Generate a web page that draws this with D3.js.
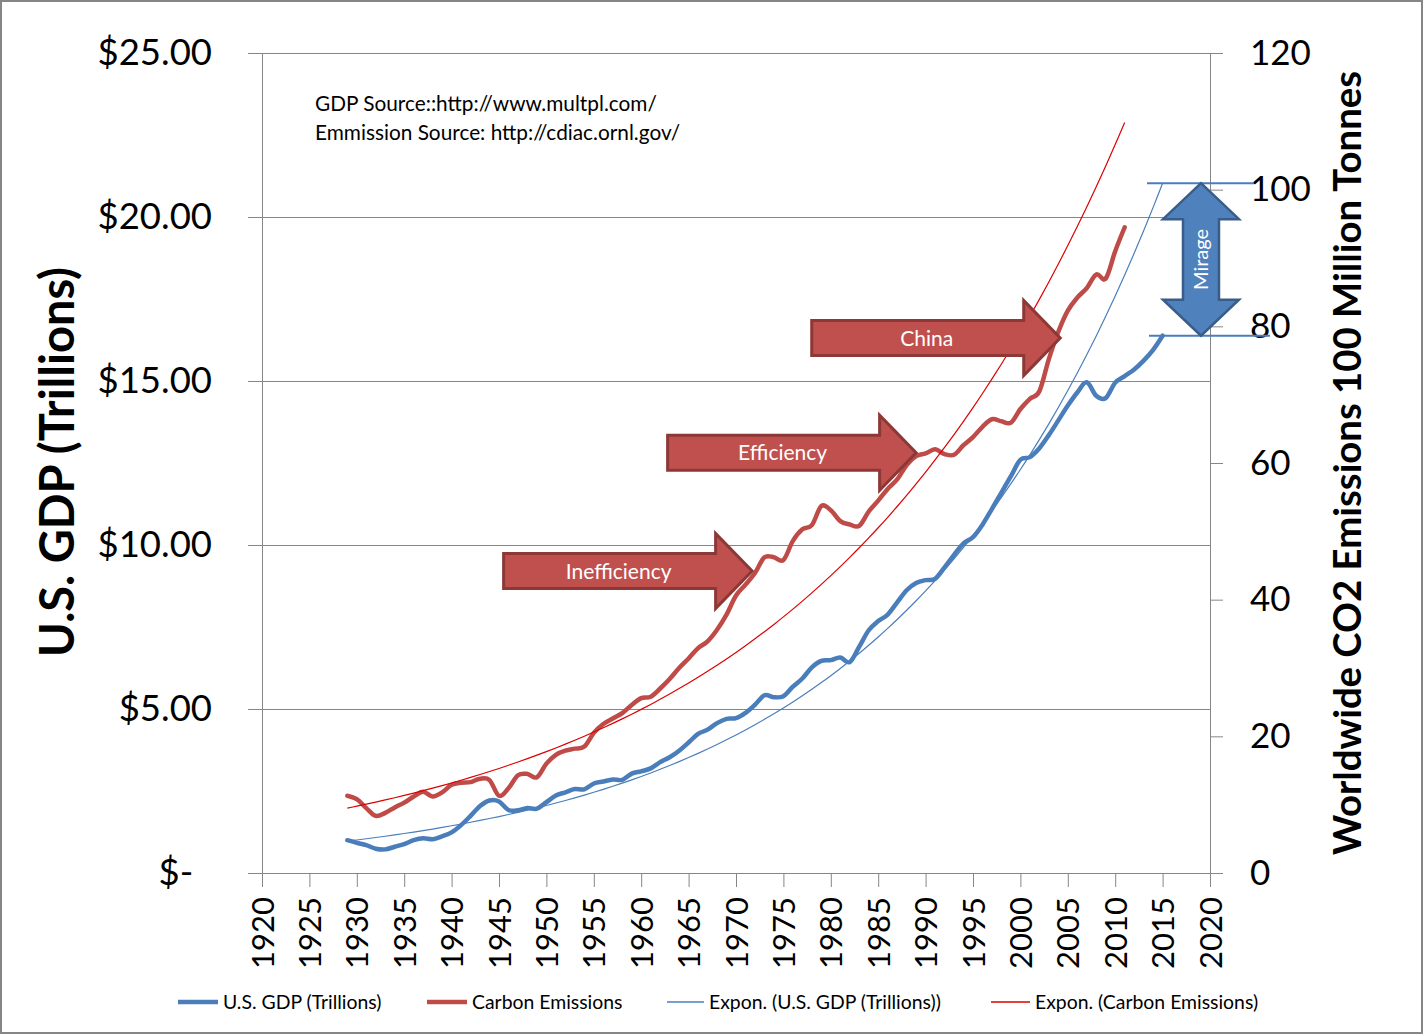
<!DOCTYPE html>
<html>
<head>
<meta charset="utf-8">
<script src="https://cdn.jsdelivr.net/npm/d3@7"></script>
<style>
  body { margin: 0; background: #fff; }
  text { font-family: Lato, sans-serif; }
</style>
</head>
<body>
<div id="chart"></div>
<script>
// - data
const gdpYears = d3.range(1929, 2016)
const gdpValues = [
  1.00, 0.92, 0.85, 0.74, 0.72, 0.80, 0.88, 1.00, 1.06, 1.03, // 1929-1938
  1.12, 1.24, 1.46, 1.74, 2.04, 2.21, 2.18, 1.92, 1.91, 1.98, // 1939-1948
  1.96, 2.16, 2.36, 2.46, 2.56, 2.55, 2.73, 2.79, 2.85, 2.84, // 1949-1958
  3.03, 3.10, 3.19, 3.38, 3.53, 3.73, 3.98, 4.24, 4.37, 4.57, // 1959-1968
  4.70, 4.72, 4.88, 5.13, 5.42, 5.36, 5.39, 5.68, 5.93, 6.27, // 1969-1978
  6.47, 6.49, 6.57, 6.43, 6.90, 7.40, 7.68, 7.88, 8.25, 8.62, // 1979-1988
  8.84, 8.93, 8.97, 9.32, 9.70, 10.05, 10.24, 10.62, 11.10, 11.60, // 1989-1998
  12.10, 12.60, 12.68, 12.95, 13.35, 13.80, 14.25, 14.65, 14.96, 14.55, // 1999-2008
  14.48, 14.95, 15.15, 15.35, 15.62, 15.95, 16.38 // 2009-2015
]

const carbonYears = d3.range(1929, 2012)
const carbonValues = [
  11.3, 10.8, 9.5, 8.35, 8.8, 9.6, 10.3, 11.2, 11.9, 11.2, // 1929-1938
  11.8, 12.9, 13.2, 13.3, 13.8, 13.6, 11.3, 12.4, 14.3, 14.5, // 1939-1948
  14.0, 16.0, 17.3, 17.9, 18.2, 18.5, 20.5, 21.8, 22.6, 23.4, // 1949-1958
  24.6, 25.6, 25.8, 27.0, 28.4, 30.0, 31.4, 32.9, 33.9, 35.6, // 1959-1968
  37.8, 40.6, 42.2, 43.9, 46.2, 46.2, 45.8, 48.6, 50.3, 50.9, // 1969-1978
  53.7, 53.1, 51.5, 51.0, 50.8, 52.9, 54.5, 56.2, 57.6, 59.7, // 1979-1988
  61.0, 61.4, 62.0, 61.3, 61.2, 62.6, 63.8, 65.3, 66.4, 66.1, // 1989-1998
  65.9, 67.9, 69.4, 70.5, 75.2, 79.2, 82.3, 84.2, 85.6, 87.6, // 1999-2008
  87.0, 91.0, 94.5 // 2009-2011
]

const yearTicks = [1920, 1925, 1930, 1935, 1940, 1945, 1950, 1955, 1960, 1965, 1970,
  1975, 1980, 1985, 1990, 1995, 2000, 2005, 2010, 2015, 2020]
const gdpTicks = [0, 5, 10, 15, 20, 25]
const gdpTickLabels = ['$-  ', '$5.00', '$10.00', '$15.00', '$20.00', '$25.00']
const carbonTicks = [0, 20, 40, 60, 80, 100, 120]

const legendNames = ['U.S. GDP (Trillions)', 'Carbon Emissions',
  'Expon. (U.S. GDP (Trillions))', 'Expon. (Carbon Emissions)']

const callouts = [
  { label: 'Inefficiency', year: 1971.7, value: 44.2 },
  { label: 'Efficiency', year: 1989.0, value: 61.5 },
  { label: 'China', year: 2004.2, value: 78.3 },
]

// - layout
const dms = {
  width: 1424,
  height: 1035,
  margin: { top: 53, right: 214, bottom: 162, left: 262 }
}
const contentWidth = dms.width - dms.margin.left - dms.margin.right
const contentHeight = dms.height - dms.margin.top - dms.margin.bottom

const blue = '#4a7ebb'
const red = '#be4b48'
const gridColor = '#868686'

const svg = d3.select('#chart')
  .append('svg')
  .attr('width', dms.width)
  .attr('height', dms.height)

svg.append('rect')
  .attr('x', 1).attr('y', 1)
  .attr('width', dms.width - 3).attr('height', dms.height - 3)
  .attr('fill', '#fff')
  .attr('stroke', gridColor)
  .attr('stroke-width', 2)

const content = svg.append('g')
  .attr('transform', `translate(${dms.margin.left},${dms.margin.top})`)

// - scales
const xScale = d3.scaleLinear().domain([1920, 2020]).range([0, contentWidth])
const gdpScale = d3.scaleLinear().domain([0, 25]).range([contentHeight, 0])
const carbonScale = d3.scaleLinear().domain([0, 120]).range([contentHeight, 0])

// exponential trendline, least squares on ln(y) like Excel does
function expFit(xs, ys) {
  const ly = ys.map(Math.log)
  const mx = d3.mean(xs)
  const my = d3.mean(ly)
  const b = d3.sum(xs, (x, i) => (x - mx) * (ly[i] - my)) / d3.sum(xs, x => (x - mx) ** 2)
  return x => Math.exp(my + b * (x - mx))
}

const gdpData = gdpYears.map((year, i) => ({ year, value: gdpValues[i] }))
const carbonData = carbonYears.map((year, i) => ({ year, value: carbonValues[i] }))
const gdpTrend = expFit(gdpYears, gdpValues)
const carbonTrend = expFit(carbonYears, carbonValues)
const gdpTrendData = gdpYears.map(year => ({ year, value: gdpTrend(year) }))
const carbonTrendData = carbonYears.map(year => ({ year, value: carbonTrend(year) }))

// - grid + axes
content.append('g')
  .call(d3.axisLeft(gdpScale).tickValues(gdpTicks).tickSize(-contentWidth).tickFormat(''))
  .call(g => g.select('.domain').remove())
  .call(g => g.selectAll('line').attr('stroke', gridColor))

function styleAxis(g) {
  g.select('.domain').attr('stroke', gridColor)
  g.selectAll('.tick line').attr('stroke', gridColor)
  g.selectAll('text').attr('fill', '#000').style('font-family', 'Lato, sans-serif')
}

content.append('g')
  .call(d3.axisLeft(gdpScale).tickValues(gdpTicks).tickSize(14).tickSizeOuter(0).tickPadding(36)
    .tickFormat((d, i) => gdpTickLabels[i]))
  .call(styleAxis)
  .call(g => g.selectAll('text').style('font-size', '36.5px').style('white-space', 'pre'))

content.append('g')
  .attr('transform', `translate(${contentWidth},0)`)
  .call(d3.axisRight(carbonScale).tickValues(carbonTicks).tickSize(13).tickSizeOuter(0).tickPadding(27))
  .call(styleAxis)
  .call(g => g.selectAll('text').style('font-size', '35px'))

content.append('g')
  .attr('transform', `translate(0,${contentHeight})`)
  .call(d3.axisBottom(xScale).tickValues(yearTicks).tickSize(14).tickSizeOuter(0).tickFormat(d3.format('d')))
  .call(styleAxis)
  .call(g => g.selectAll('text')
    .style('font-size', '31px')
    .attr('transform', 'rotate(-90)')
    .attr('x', -24).attr('y', 0).attr('dy', '0.36em')
    .style('text-anchor', 'end'))

// - axis titles
svg.append('text')
  .attr('transform', 'translate(57,462) rotate(-90)')
  .attr('text-anchor', 'middle')
  .attr('dy', '0.36em')
  .style('font-size', '47px')
  .style('font-weight', 'bold')
  .text('U.S. GDP (Trillions)')

svg.append('text')
  .attr('transform', 'translate(1347,463) rotate(-90)')
  .attr('text-anchor', 'middle')
  .attr('dy', '0.36em')
  .style('font-size', '38.3px')
  .style('font-weight', 'bold')
  .text('Worldwide CO2 Emissions 100 Million Tonnes')

// - lines
const gdpLine = d3.line()
  .x(d => xScale(d.year))
  .y(d => gdpScale(d.value))
  .curve(d3.curveCardinal)
const carbonLine = d3.line()
  .x(d => xScale(d.year))
  .y(d => carbonScale(d.value))
  .curve(d3.curveCardinal)

content.append('path')
  .attr('d', gdpLine(gdpData))
  .attr('fill', 'none').attr('stroke', blue).attr('stroke-width', 4.5)
  .attr('stroke-linejoin', 'round').attr('stroke-linecap', 'round')

content.append('path')
  .attr('d', carbonLine(carbonData))
  .attr('fill', 'none').attr('stroke', red).attr('stroke-width', 4.5)
  .attr('stroke-linejoin', 'round').attr('stroke-linecap', 'round')

content.append('path')
  .attr('d', gdpLine(gdpTrendData))
  .attr('fill', 'none').attr('stroke', blue).attr('stroke-width', 1.2)

content.append('path')
  .attr('d', carbonLine(carbonTrendData))
  .attr('fill', 'none').attr('stroke', '#dd0000').attr('stroke-width', 1.2)

// - source note
const note = svg.append('text')
  .attr('x', 315).attr('y', 111)
  .style('font-size', '20.8px')
note.append('tspan').attr('x', 315).text('GDP Source::http://www.multpl.com/')
note.append('tspan').attr('x', 315).attr('dy', 29).text('Emmission Source: http://cdiac.ornl.gov/')

// - legend
const legendItems = [
  { name: legendNames[0], color: blue, width: 4.5, x0: 178, x1: 218 },
  { name: legendNames[1], color: red, width: 4.5, x0: 427, x1: 467 },
  { name: legendNames[2], color: blue, width: 1.3, x0: 667, x1: 704 },
  { name: legendNames[3], color: '#dd0000', width: 1.3, x0: 991, x1: 1030 },
]
const legend = svg.append('g').attr('transform', 'translate(0,1002)')
legendItems.forEach(item => {
  legend.append('line')
    .attr('x1', item.x0).attr('x2', item.x1)
    .attr('stroke', item.color).attr('stroke-width', item.width)
  legend.append('text')
    .attr('x', item.x1 + 5).attr('dy', '0.36em')
    .style('font-size', '19.4px')
    .text(item.name)
})

// - callout arrows
const arrowPath = (tipX, tipY) => {
  const base = tipX - 36.5
  const left = base - 212
  return `M${left},${tipY - 17.5}L${base},${tipY - 17.5}L${base},${tipY - 37.5}L${tipX},${tipY}`
    + `L${base},${tipY + 37.5}L${base},${tipY + 17.5}L${left},${tipY + 17.5}Z`
}
callouts.forEach(c => {
  const tx = xScale(c.year)
  const ty = carbonScale(c.value)
  content.append('path')
    .attr('d', arrowPath(tx, ty))
    .attr('fill', '#c0504d').attr('stroke', '#8c3836').attr('stroke-width', 3)
    .attr('stroke-linejoin', 'miter')
  content.append('text')
    .attr('x', tx - 36.5 - 97).attr('y', ty).attr('dy', '0.36em')
    .attr('text-anchor', 'middle')
    .attr('fill', '#fff')
    .style('font-size', '21px')
    .text(c.label)
})

// - "Mirage" gap between trend and actual GDP at the last year
const lastYear = gdpYears[gdpYears.length - 1]
const topY = gdpScale(gdpTrend(lastYear))
const botY = gdpScale(gdpValues[gdpValues.length - 1])
const mx = xScale(2019.05)

content.append('line')
  .attr('x1', mx - 54).attr('x2', mx + 53).attr('y1', topY).attr('y2', topY)
  .attr('stroke', blue).attr('stroke-width', 2)
content.append('line')
  .attr('x1', mx - 52).attr('x2', mx + 69).attr('y1', botY).attr('y2', botY)
  .attr('stroke', blue).attr('stroke-width', 2)

const hl = 36, hw = 38, sw = 18
content.append('path')
  .attr('d', `M${mx},${topY}L${mx + hw},${topY + hl}L${mx + sw},${topY + hl}L${mx + sw},${botY - hl}`
    + `L${mx + hw},${botY - hl}L${mx},${botY}L${mx - hw},${botY - hl}L${mx - sw},${botY - hl}`
    + `L${mx - sw},${topY + hl}L${mx - hw},${topY + hl}Z`)
  .attr('fill', '#4f81bd').attr('stroke', '#385d8a').attr('stroke-width', 2.5)

content.append('text')
  .attr('transform', `translate(${mx},${(topY + botY) / 2}) rotate(-90)`)
  .attr('text-anchor', 'middle').attr('dy', '0.36em')
  .attr('fill', '#fff')
  .style('font-size', '20px')
  .text('Mirage')
</script>
</body>
</html>
